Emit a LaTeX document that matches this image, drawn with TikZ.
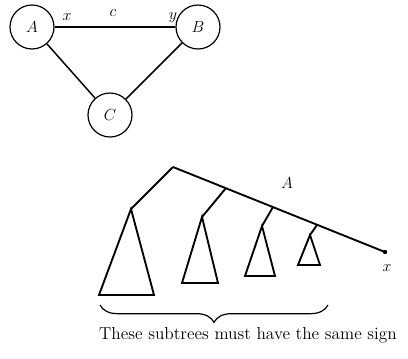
\documentclass[tikz,border=0pt]{standalone}
\usetikzlibrary{decorations.pathreplacing}
\begin{document}
\begin{tikzpicture}[x=0.75pt,y=-0.75pt,
  every node/.style={font=\fontsize{13}{15}\selectfont},
  vtx/.style={draw,circle,line width=0.9pt,minimum size=33pt,inner sep=0pt},
  edge/.style={line width=1.1pt},
  tri/.style={line width=1.4pt,line join=miter},
  lbl/.style={inner sep=1pt}]
\useasboundingbox (0,0) rectangle (408,358);
% graph
\node[vtx] (A) at (32,27) {$A$};
\node[vtx] (B) at (198,27) {$B$};
\node[vtx] (C) at (110,115) {$C$};
\draw[line width=1.8pt] (A) -- (B);
\draw[edge] (A) -- (C);
\draw[edge] (B) -- (C);
\node[lbl] (lx) at (67,17) {$x$};
\node[lbl] (lc) at (113,13) {$c$};
\node[lbl] (ly) at (173,18) {$y$};
% tree
\coordinate (r) at (173,167);
\coordinate (e) at (385,252);
\coordinate (b2) at (226,188);
\coordinate (b3) at (273,207);
\coordinate (b4) at (317,225);
\coordinate (t1) at (131,209);
\coordinate (t2) at (202,217);
\coordinate (t3) at (262,226);
\coordinate (t4) at (310,235);
\draw[tri] (r) -- (e);
\fill (e) circle (2.2);
\draw[tri] (r) -- (t1);
\draw[tri] (b2) -- (t2);
\draw[tri] (b3) -- (t3);
\draw[tri] (b4) -- (t4);
\draw[tri] (t1) -- (154,295) -- (99,295) -- cycle;
\draw[tri] (t2) -- (218,283) -- (182,283) -- cycle;
\draw[tri] (t3) -- (275,276) -- (245,276) -- cycle;
\draw[tri] (t4) -- (320,265) -- (298,265) -- cycle;
\node[lbl] (lA) at (287,183) {$A$};
\node[lbl] (lxe) at (387,268) {$x$};
\draw[line width=0.9pt,decorate,decoration={brace,mirror,amplitude=13}] (100,305) -- (328,305);
\node (txt) at (248,335) {These subtrees must have the same sign};
\end{tikzpicture}
\end{document}
